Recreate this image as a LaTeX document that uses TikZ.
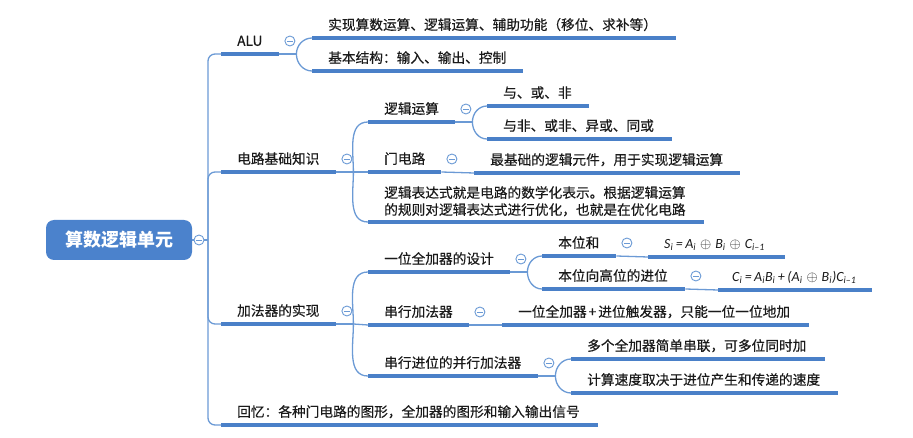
\documentclass[tikz,border=0pt]{standalone}
\usepackage{fontspec}
\setmainfont{Noto Sans CJK SC}[UprightFeatures={FakeBold=0.4}]
\newfontfamily\formfont{Carlito}
\definecolor{ulblue}{HTML}{4A80C8}
\definecolor{lnblue}{HTML}{6B9AD5}
\definecolor{rootblue}{HTML}{4B82CC}
\definecolor{txt}{HTML}{1A1A1A}
\newcommand{\sbs}[1]{\textsubscript{#1}}
\newcommand{\fsp}{\hspace{2.5pt}}
\newcommand{\fop}{\hspace{4pt}{\fontsize{14pt}{16pt}\selectfont$\oplus$}\hspace{4pt}}
\begin{document}
\begin{tikzpicture}[x=1pt,y=-1pt,
  topic/.style={anchor=south west, inner xsep=16pt, inner ysep=0pt, text depth=8pt, align=left,
    font=\fontsize{13.7pt}{17pt}\selectfont, text=txt},
  formula/.style={topic, font=\fontsize{14pt}{17pt}\selectfont\formfont\itshape},
  ulin/.style={draw=ulblue, line width=3.2pt},
  ln/.style={draw=lnblue, line width=1.3pt},
  coll/.style={circle, draw=lnblue, fill=white, line width=0.9pt, minimum size=10pt, inner sep=0pt,
    path picture={\draw[lnblue, line width=0.9pt] ([xshift=-2.6pt]path picture bounding box.center) -- ([xshift=2.6pt]path picture bounding box.center);}},
  rootbox/.style={fill=rootblue, text=white, rounded corners=8pt, minimum width=146pt, minimum height=40pt,
    inner sep=0pt, font=\fontsize{18pt}{20pt}\selectfont\bfseries}
]
\useasboundingbox (0,0) rectangle (913,438);

% root
\node[rootbox] (root) at (119,240) {算数逻辑单元};
\node[coll] (rc) at (199,240) {};
\coordinate (tj) at (208,240);

% level 1
\node[topic, text width=26pt] (alu) at (221,54) {ALU};
\node[topic, text width=83pt] (dl) at (221,172) {电路基础知识};
\node[topic, text width=83pt] (jf) at (221,324) {加法器的实现};
\node[topic, text width=345pt] (hy) at (221,425) {回忆：各种门电路的图形，全加器的图形和输入输出信号};

% ALU children
\node[topic, text width=332pt] (a1) at (312,38) {实现算数运算、逻辑运算、辅助功能（移位、求补等）};
\node[topic, text width=179pt] (a2) at (312,71) {基本结构：输入、输出、控制};

% circuit basics children
\node[topic, text width=55pt] (d1) at (368,122) {逻辑运算};
\node[topic, text width=41pt] (d2) at (368,172) {门电路};
\node[topic, text width=304pt, text depth=24pt] (d3) at (368,222) {逻辑表达式就是电路的数学化表示。根据逻辑运算\\的规则对逻辑表达式进行优化，也就是在优化电路};
\node[topic, text width=70pt] (d11) at (487,106) {与、或、非};
\node[topic, text width=153pt] (d12) at (487,139) {与非、或非、异或、同或};
\node[topic, text width=234pt] (d21) at (474,173) {最基础的逻辑元件，用于实现逻辑运算};

% adder children
\node[topic, text width=110pt] (j1) at (368,272) {一位全加器的设计};
\node[topic, text width=69pt] (j2) at (368,325) {串行加法器};
\node[topic, text width=138pt] (j3) at (368,376) {串行进位的并行加法器};
\node[topic, text width=42pt] (j11) at (542,256) {本位和};
\node[topic, text width=111pt] (j12) at (542,289) {本位向高位的进位};
\node[formula, text width=105pt] (j111) at (648,257) {\mbox{S\sbs{i}\fsp=\fsp A\sbs{i}\fop B\sbs{i}\fop C\sbs{i–1}}};
\node[formula, inner xsep=14pt, text width=126pt] (j121) at (718,290) {\mbox{C\sbs{i}\fsp=\fsp A\sbs{i}B\sbs{i}\fsp+\fsp(A\sbs{i}\fop B\sbs{i})C\sbs{i–1}}};
\node[topic, text width=275pt] (j21) at (502,325) {一位全加器\hspace{2pt}+\hspace{2pt}进位触发器，只能一位一位地加};
\node[topic, text width=222pt] (j31) at (571,359) {多个全加器简单串联，可多位同时加};
\node[topic, text width=235pt] (j32) at (571,393) {计算速度取决于进位产生和传递的速度};

% underlines
\foreach \n in {alu,dl,jf,hy,a1,a2,d1,d2,d3,d11,d12,d21,j1,j2,j3,j11,j12,j111,j121,j21,j31,j32}
  \draw[ulin] (\n.south west) -- (\n.south east);

% collapse circles
\foreach \n in {alu,dl,jf,d1,d2,j1,j2,j3,j11,j12}
  \node[coll] (c-\n) at ([shift={(10.5,-13)}]\n.south east) {};

% junctions
\foreach \n in {alu,dl,jf,d1,j1,j3}
  \coordinate (k-\n) at ([xshift=17pt]\n.south east);

% trunk
\draw[ln] (root.east) -- (rc.west);
\draw[ln] (rc.east) -- (tj);
\foreach \n in {alu,dl,jf,hy}
  \draw[ln, rounded corners=7pt] (tj) |- (\n.south west);

% ALU branch
\draw[ln] (alu.south east) -- (k-alu);
\draw[ln] (k-alu) to[out=90,in=180] (a1.south west);
\draw[ln] (k-alu) to[out=-90,in=180] (a2.south west);

% circuit basics branch
\draw[ln] (dl.south east) -- (k-dl);
\draw[ln] (k-dl) to[out=90,in=180] (d1.south west);
\draw[ln] (k-dl) -- (d2.south west);
\draw[ln] (k-dl) to[out=-90,in=180] (d3.south west);
\draw[ln] (d1.south east) -- (k-d1);
\draw[ln] (k-d1) to[out=90,in=180] (d11.south west);
\draw[ln] (k-d1) to[out=-90,in=180] (d12.south west);
\draw[ln] (d2.south east) -- (d21.south west);

% adder branch
\draw[ln] (jf.south east) -- (k-jf);
\draw[ln] (k-jf) to[out=90,in=180] (j1.south west);
\draw[ln] (k-jf) -- (j2.south west);
\draw[ln] (k-jf) to[out=-90,in=180] (j3.south west);
\draw[ln] (j1.south east) -- (k-j1);
\draw[ln] (k-j1) to[out=90,in=180] (j11.south west);
\draw[ln] (k-j1) to[out=-90,in=180] (j12.south west);
\draw[ln] (j11.south east) -- (j111.south west);
\draw[ln] (j12.south east) -- (j121.south west);
\draw[ln] (j2.south east) -- (j21.south west);
\draw[ln] (j3.south east) -- (k-j3);
\draw[ln] (k-j3) to[out=90,in=180] (j31.south west);
\draw[ln] (k-j3) to[out=-90,in=180] (j32.south west);
\end{tikzpicture}
\end{document}
